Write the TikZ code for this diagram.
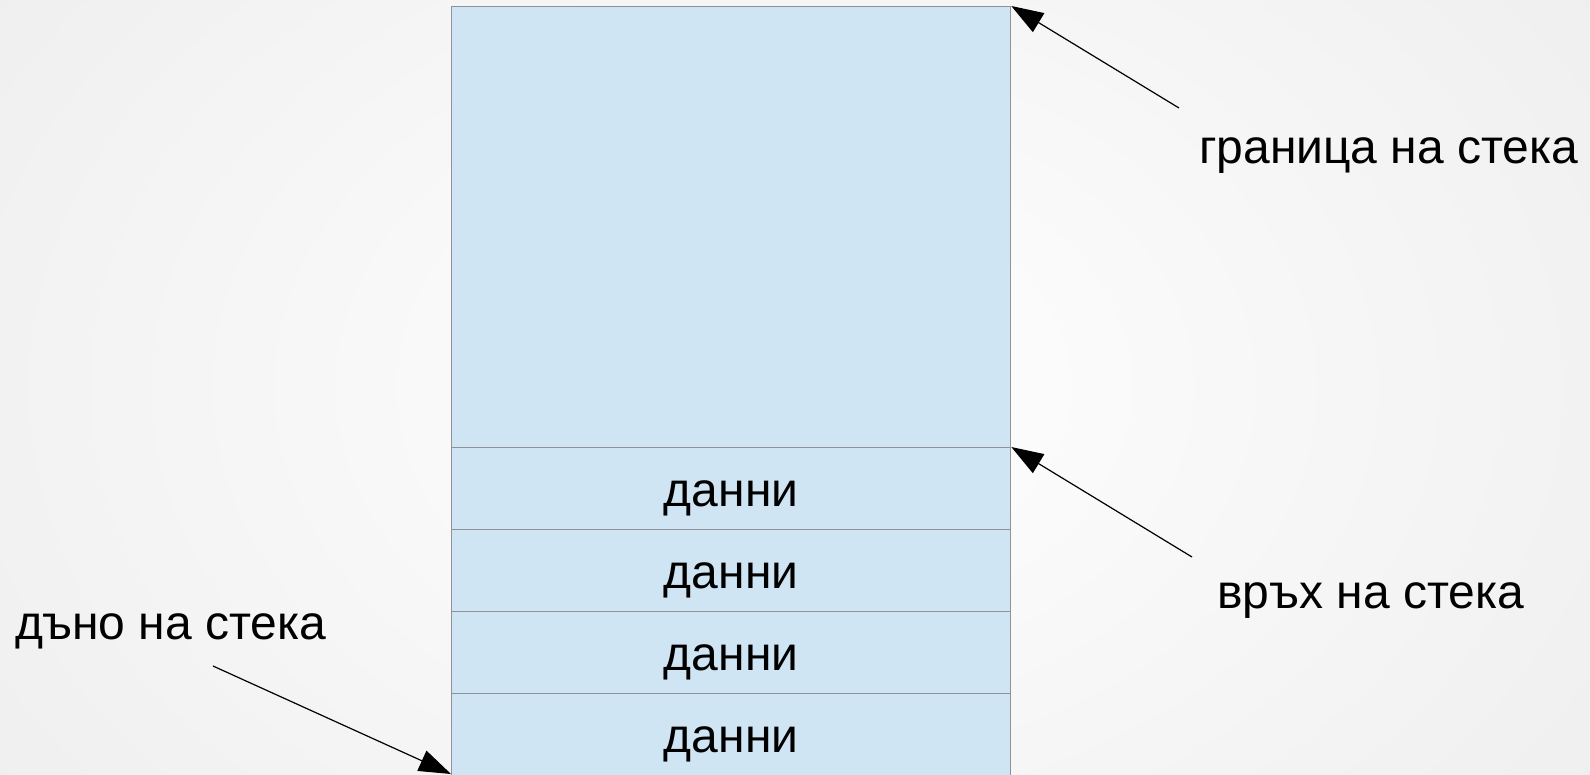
\documentclass[tikz,border=0pt]{standalone}
\usepackage{fontspec}
\setmainfont{Liberation Sans}
\usetikzlibrary{arrows.meta}
\definecolor{cellfill}{HTML}{CFE5F3}
\definecolor{cellline}{HTML}{8E9398}
\tikzset{
  cell/.style={draw=cellline, line width=1.3pt, fill=cellfill, anchor=north west,
    minimum width=559pt, inner sep=0pt, text height=35pt, text depth=0pt,
    font=\fontsize{48}{56}\selectfont},
  lbl/.style={font=\fontsize{48}{56}\selectfont, inner sep=0pt, anchor=base west},
  pointer/.style={line width=1.2pt, -{Triangle[length=32pt,width=22pt]}}
}
\begin{document}
\begin{tikzpicture}[x=1pt,y=-1pt]
\useasboundingbox (0,0) rectangle (1590,774);
\clip (0,0) rectangle (1590,774);
\shade[inner color=white, outer color=black!7] (-300,-400) rectangle (1890,1174);
\node[cell, minimum height=441pt] (limit) at (451,6) {};
\node[cell, minimum height=82pt] (d1) at (451,447) {данни};
\node[cell, minimum height=82pt] (d2) at (451,529) {данни};
\node[cell, minimum height=82pt] (d3) at (451,611) {данни};
\node[cell, minimum height=82pt] (d4) at (451,693) {данни};
\node[lbl] (tlimit) at (1199,163) {граница на стека};
\node[lbl] (ttop) at (1217,608) {връх на стека};
\node[lbl] (tbottom) at (15,639) {дъно на стека};
\coordinate (a1) at (1179,108);
\coordinate (a2) at (1192,557);
\coordinate (a3) at (213,666);
\coordinate (bottomtip) at (451,774);
\draw[pointer] (a1) -- (limit.north east);
\draw[pointer] (a2) -- (d1.north east);
\draw[pointer] (a3) -- (bottomtip);
\end{tikzpicture}
\end{document}
